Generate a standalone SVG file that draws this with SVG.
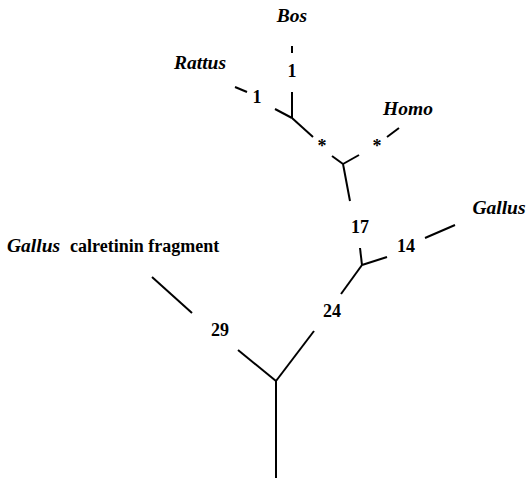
<svg xmlns="http://www.w3.org/2000/svg" width="526" height="478" viewBox="0 0 526 478">
  <style>
    .edge { stroke: #000; stroke-width: 2; fill: none; stroke-linecap: butt; }
    .taxon { font-family: "Liberation Serif", "Times New Roman", serif; font-style: italic; font-weight: bold; font-size: 19.5px; fill: #000; }
    .len { font-family: "Liberation Serif", "Times New Roman", serif; font-weight: bold; font-size: 18px; fill: #000; text-anchor: middle; }
    .plain { font-family: "Liberation Serif", "Times New Roman", serif; font-weight: bold; font-size: 18px; fill: #000; }
  </style>
  <rect width="526" height="478" fill="#fff"/>

  <!-- branches of the unrooted tree -->
  <g id="connectors">
    <!-- Bos -->
    <line class="edge" x1="292" y1="46" x2="292" y2="53"/>
    <line class="edge" x1="292" y1="92" x2="292" y2="118"/>
    <!-- Rattus -->
    <line class="edge" x1="235" y1="87" x2="247" y2="92"/>
    <line class="edge" x1="275" y1="109" x2="292" y2="118"/>
    <!-- Bos/Rattus node towards Homo junction -->
    <line class="edge" x1="292" y1="118" x2="313" y2="137"/>
    <!-- Homo -->
    <line class="edge" x1="387" y1="137" x2="399" y2="128"/>
    <!-- mammal junction -->
    <line class="edge" x1="332" y1="156" x2="343" y2="164"/>
    <line class="edge" x1="359" y1="155" x2="343" y2="164"/>
    <line class="edge" x1="343" y1="164" x2="350" y2="201"/>
    <!-- Gallus calbindin junction -->
    <line class="edge" x1="360" y1="248" x2="362" y2="265"/>
    <line class="edge" x1="362" y1="265" x2="387" y2="257"/>
    <line class="edge" x1="362" y1="265" x2="341" y2="294"/>
    <line class="edge" x1="425" y1="238" x2="455" y2="225"/>
    <!-- basal junction -->
    <line class="edge" x1="314" y1="331" x2="276" y2="381"/>
    <line class="edge" x1="238" y1="350" x2="276" y2="381"/>
    <line class="edge" x1="276" y1="381" x2="276" y2="478"/>
    <line class="edge" x1="152" y1="277" x2="192" y2="313"/>
  </g>

  <!-- taxon labels -->
  <g id="bos"><text class="taxon" x="292" y="22" text-anchor="middle">Bos</text></g>
  <g id="rattus"><text class="taxon" x="200" y="69" text-anchor="middle">Rattus</text></g>
  <g id="homo"><text class="taxon" x="408" y="115" text-anchor="middle">Homo</text></g>
  <g id="gallus"><text class="taxon" x="499" y="214" text-anchor="middle">Gallus</text></g>
  <g id="gallus-calretinin">
    <text x="7" y="252"><tspan class="taxon">Gallus</tspan><tspan class="plain" dx="10">calretinin fragment</tspan></text>
  </g>

  <!-- branch lengths -->
  <g id="len-bos"><text class="len" x="292" y="77">1</text></g>
  <g id="len-rattus"><text class="len" x="257" y="103">1</text></g>
  <g id="len-inner"><text class="len" x="322" y="152">*</text></g>
  <g id="len-homo"><text class="len" x="377" y="152">*</text></g>
  <g id="len-mammal"><text class="len" x="360" y="233">17</text></g>
  <g id="len-gallus"><text class="len" x="406" y="252">14</text></g>
  <g id="len-bird"><text class="len" x="332" y="317">24</text></g>
  <g id="len-calretinin"><text class="len" x="220" y="336">29</text></g>
</svg>
